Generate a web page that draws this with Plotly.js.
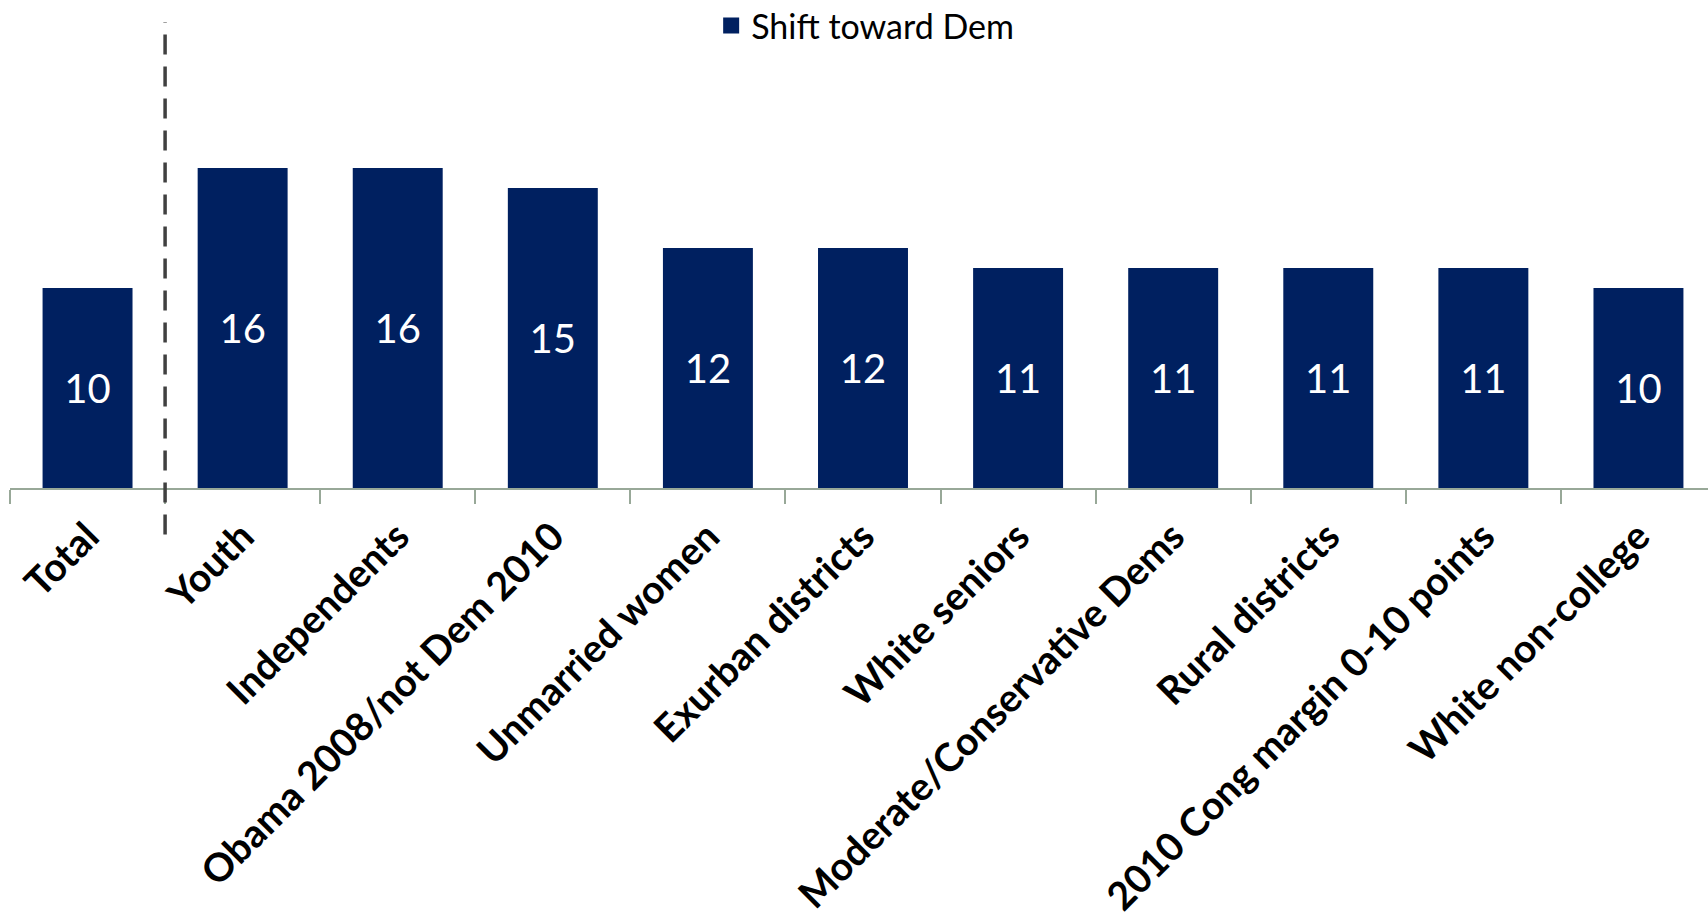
<!DOCTYPE html>
<html>
<head>
<meta charset="utf-8">
<script src="https://cdn.plot.ly/plotly-3.0.1.min.js"></script>
<style>
html,body{margin:0;padding:0;overflow:hidden;background:#fff;}
#chart{width:1720px;height:922px;}
</style>
</head>
<body>
<div id="chart"></div>
<script>
var categories = ["Total","Youth","Independents","Obama 2008/not Dem 2010","Unmarried women","Exurban districts","White seniors","Moderate/Conservative Dems","Rural districts","2010 Cong margin 0-10 points","White non-college"];
var shiftTowardDem = [10,16,16,15,12,12,11,11,11,11,10];
var seriesName = "Shift toward Dem";
var barColor = "#002060";

var trace = {
  type: "bar",
  x: categories,
  y: shiftTowardDem,
  name: seriesName,
  showlegend: false,
  marker: {color: barColor},
  text: shiftTowardDem.map(String),
  textposition: "inside",
  insidetextanchor: "middle",
  textangle: 0,
  textfont: {family: "Lato, 'Open Sans', sans-serif", size: 40, color: "#ffffff"},
  hoverinfo: "x+y"
};

var legendTrace = {
  type: "scatter",
  mode: "markers",
  x: [null],
  y: [null],
  name: seriesName,
  showlegend: true,
  marker: {symbol: "square", size: 20, color: barColor}
};

var layout = {
  width: 1720,
  height: 922,
  margin: {l: 10, r: 4, t: 22, b: 434, autoexpand: false},
  paper_bgcolor: "#ffffff",
  plot_bgcolor: "#ffffff",
  bargap: 0.42,
  showlegend: true,
  legend: {
    orientation: "h",
    xref: "container", yref: "container",
    x: 0.503, xanchor: "center",
    y: 0.972, yanchor: "middle",
    font: {family: "Lato, 'Open Sans', sans-serif", size: 34, color: "#000000"},
    bgcolor: "rgba(0,0,0,0)",
    itemwidth: 30
  },
  xaxis: {
    type: "category",
    tickangle: -45,
    tickfont: {family: "Lato, 'Open Sans', sans-serif", size: 39, color: "#000000", weight: "bold"},
    ticklabelstandoff: 8,
    showline: true,
    linecolor: "#98A898",
    linewidth: 2,
    ticks: "outside",
    tickson: "boundaries",
    ticklen: 14,
    tickwidth: 2,
    tickcolor: "#98A898",
    showgrid: false,
    zeroline: false,
    automargin: false
  },
  yaxis: {
    range: [0, 23.3],
    showgrid: false,
    zeroline: false,
    showline: false,
    showticklabels: false,
    ticks: ""
  },
  shapes: [{
    type: "line",
    xref: "x", yref: "paper",
    x0: 0.5, x1: 0.5,
    y0: -0.1, y1: 1.0,
    line: {color: "#404040", width: 3.5, dash: "20px,12px"}
  }]
};

Plotly.newPlot("chart", [trace, legendTrace], layout, {displayModeBar: false, staticPlot: true});
</script>
</body>
</html>
